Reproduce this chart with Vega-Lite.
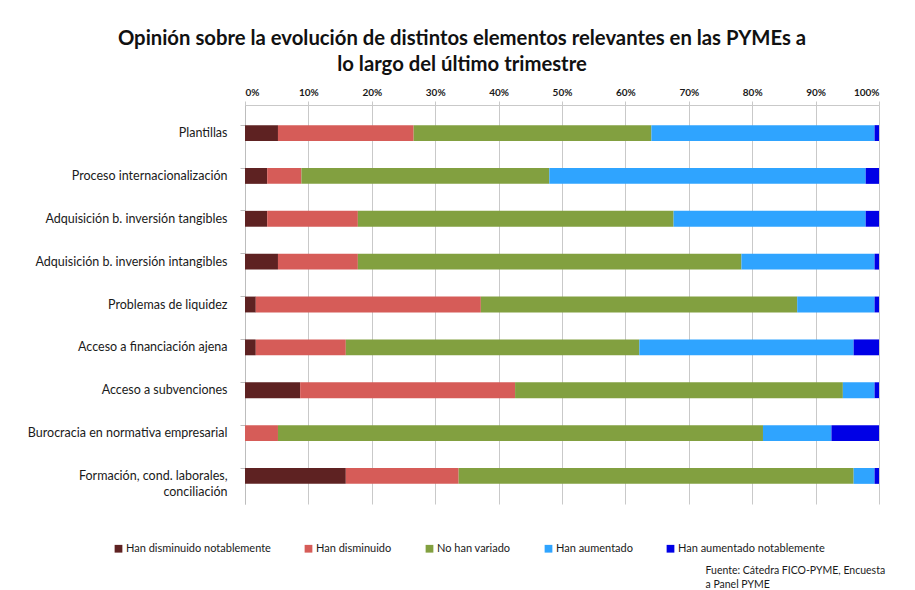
{
  "$schema": "https://vega.github.io/schema/vega-lite/v6.json",
  "autosize": "none",
  "width": 634,
  "height": 399,
  "padding": {"left": 245, "top": 105, "right": 36, "bottom": 86},
  "background": "white",
  "title": {
    "text": ["Opinión sobre la evolución de distintos elementos relevantes en las PYMEs a", "lo largo del último trimestre"],
    "font": "Lato",
    "fontSize": 20.3,
    "fontWeight": "bold",
    "color": "#111111",
    "anchor": "middle",
    "frame": "group",
    "dx": -100,
    "offset": 12,
    "lineHeight": 26
  },
  "data": {
    "values": [
      {"cat": "Plantillas", "serie": "Han disminuido notablemente", "o": 1, "v": 5.2},
      {"cat": "Plantillas", "serie": "Han disminuido", "o": 2, "v": 21.4},
      {"cat": "Plantillas", "serie": "No han variado", "o": 3, "v": 37.5},
      {"cat": "Plantillas", "serie": "Han aumentado", "o": 4, "v": 35.2},
      {"cat": "Plantillas", "serie": "Han aumentado notablemente", "o": 5, "v": 0.7},
      {"cat": "Proceso internacionalización", "serie": "Han disminuido notablemente", "o": 1, "v": 3.5},
      {"cat": "Proceso internacionalización", "serie": "Han disminuido", "o": 2, "v": 5.4},
      {"cat": "Proceso internacionalización", "serie": "No han variado", "o": 3, "v": 39.1},
      {"cat": "Proceso internacionalización", "serie": "Han aumentado", "o": 4, "v": 49.9},
      {"cat": "Proceso internacionalización", "serie": "Han aumentado notablemente", "o": 5, "v": 2.1},
      {"cat": "Adquisición b. inversión tangibles", "serie": "Han disminuido notablemente", "o": 1, "v": 3.5},
      {"cat": "Adquisición b. inversión tangibles", "serie": "Han disminuido", "o": 2, "v": 14.3},
      {"cat": "Adquisición b. inversión tangibles", "serie": "No han variado", "o": 3, "v": 49.8},
      {"cat": "Adquisición b. inversión tangibles", "serie": "Han aumentado", "o": 4, "v": 30.3},
      {"cat": "Adquisición b. inversión tangibles", "serie": "Han aumentado notablemente", "o": 5, "v": 2.1},
      {"cat": "Adquisición b. inversión intangibles", "serie": "Han disminuido notablemente", "o": 1, "v": 5.2},
      {"cat": "Adquisición b. inversión intangibles", "serie": "Han disminuido", "o": 2, "v": 12.6},
      {"cat": "Adquisición b. inversión intangibles", "serie": "No han variado", "o": 3, "v": 60.5},
      {"cat": "Adquisición b. inversión intangibles", "serie": "Han aumentado", "o": 4, "v": 21.0},
      {"cat": "Adquisición b. inversión intangibles", "serie": "Han aumentado notablemente", "o": 5, "v": 0.7},
      {"cat": "Problemas de liquidez", "serie": "Han disminuido notablemente", "o": 1, "v": 1.7},
      {"cat": "Problemas de liquidez", "serie": "Han disminuido", "o": 2, "v": 35.5},
      {"cat": "Problemas de liquidez", "serie": "No han variado", "o": 3, "v": 49.9},
      {"cat": "Problemas de liquidez", "serie": "Han aumentado", "o": 4, "v": 12.2},
      {"cat": "Problemas de liquidez", "serie": "Han aumentado notablemente", "o": 5, "v": 0.7},
      {"cat": "Acceso a financiación ajena", "serie": "Han disminuido notablemente", "o": 1, "v": 1.7},
      {"cat": "Acceso a financiación ajena", "serie": "Han disminuido", "o": 2, "v": 14.2},
      {"cat": "Acceso a financiación ajena", "serie": "No han variado", "o": 3, "v": 46.3},
      {"cat": "Acceso a financiación ajena", "serie": "Han aumentado", "o": 4, "v": 33.8},
      {"cat": "Acceso a financiación ajena", "serie": "Han aumentado notablemente", "o": 5, "v": 4.0},
      {"cat": "Acceso a subvenciones", "serie": "Han disminuido notablemente", "o": 1, "v": 8.7},
      {"cat": "Acceso a subvenciones", "serie": "Han disminuido", "o": 2, "v": 33.9},
      {"cat": "Acceso a subvenciones", "serie": "No han variado", "o": 3, "v": 51.7},
      {"cat": "Acceso a subvenciones", "serie": "Han aumentado", "o": 4, "v": 5.0},
      {"cat": "Acceso a subvenciones", "serie": "Han aumentado notablemente", "o": 5, "v": 0.7},
      {"cat": "Burocracia en normativa empresarial", "serie": "Han disminuido notablemente", "o": 1, "v": 0},
      {"cat": "Burocracia en normativa empresarial", "serie": "Han disminuido", "o": 2, "v": 5.2},
      {"cat": "Burocracia en normativa empresarial", "serie": "No han variado", "o": 3, "v": 76.5},
      {"cat": "Burocracia en normativa empresarial", "serie": "Han aumentado", "o": 4, "v": 10.8},
      {"cat": "Burocracia en normativa empresarial", "serie": "Han aumentado notablemente", "o": 5, "v": 7.5},
      {"cat": "Formación, cond. laborales, conciliación", "serie": "Han disminuido notablemente", "o": 1, "v": 15.9},
      {"cat": "Formación, cond. laborales, conciliación", "serie": "Han disminuido", "o": 2, "v": 17.8},
      {"cat": "Formación, cond. laborales, conciliación", "serie": "No han variado", "o": 3, "v": 62.3},
      {"cat": "Formación, cond. laborales, conciliación", "serie": "Han aumentado", "o": 4, "v": 3.3},
      {"cat": "Formación, cond. laborales, conciliación", "serie": "Han aumentado notablemente", "o": 5, "v": 0.7}
    ]
  },
  "encoding": {
    "y": {
      "field": "cat",
      "type": "nominal",
      "sort": null,
      "scale": {"paddingInner": 0.63, "paddingOuter": 0.47},
      "axis": {
        "title": null,
        "labelFont": "Lato",
        "labelFontSize": 12.5,
        "labelColor": "#1a1a1a",
        "labelPadding": 13,
        "labelLimit": 240,
        "labelLineHeight": 16,
        "labelExpr": "datum.label == 'Formación, cond. laborales, conciliación' ? ['Formación, cond. laborales,', 'conciliación'] : datum.label",
        "domainColor": "#bdbdbd",
        "tickColor": "#bdbdbd",
        "tickSize": 5,
        "ticks": true,
        "grid": false,
        "bandPosition": 0
      }
    }
  },
  "layer": [
    {
      "mark": {"type": "bar", "opacity": 0},
      "encoding": {
        "x": {
          "field": "v",
          "type": "quantitative",
          "stack": "normalize",
          "axis": {
            "orient": "bottom",
            "labels": false,
            "ticks": false,
            "domain": false,
            "grid": false,
            "title": ["Fuente: Cátedra FICO-PYME, Encuesta", "a Panel PYME"],
            "titleFont": "Lato",
            "titleFontSize": 10.5,
            "titleFontWeight": "normal",
            "titleColor": "#1a1a1a",
            "titleAlign": "left",
            "titleAnchor": "start",
            "titleX": 460,
            "titleY": 69,
            "titleBaseline": "alphabetic",
            "titleLineHeight": 14
          }
        }
      }
    },
    {
      "mark": {"type": "bar", "stroke": null},
      "encoding": {
        "x": {
          "field": "v",
          "type": "quantitative",
          "stack": "normalize",
          "scale": {"domain": [0, 1]},
          "axis": {
            "orient": "top",
            "format": ".0%",
            "values": [0, 0.1, 0.2, 0.3, 0.4, 0.5, 0.6, 0.7, 0.8, 0.9, 1],
            "title": null,
            "labelFont": "Lato",
            "labelFontSize": 10,
            "labelFontWeight": "bold",
            "labelColor": "#1a1a1a",
            "labelPadding": 4,
            "grid": true,
            "gridColor": "#c9c9c9",
            "gridWidth": 1,
            "domainColor": "#c9c9c9",
            "tickColor": "#c9c9c9",
            "tickSize": 4
          }
        },
        "color": {
          "field": "serie",
          "type": "nominal",
          "scale": {
            "domain": ["Han disminuido notablemente", "Han disminuido", "No han variado", "Han aumentado", "Han aumentado notablemente"],
            "range": ["#5e2222", "#d65c58", "#82a040", "#2fa4ff", "#0000e6"]
          },
          "legend": {
            "title": null,
            "orient": "none",
            "direction": "horizontal",
            "legendX": -132,
            "legendY": 438,
            "symbolType": "square",
            "symbolSize": 60,
            "symbolStrokeWidth": 0,
            "labelFont": "Lato",
            "labelFontSize": 11,
            "labelColor": "#1a1a1a",
            "labelOffset": 2,
            "columnPadding": 32
          }
        },
        "order": {"field": "o", "type": "quantitative"}
      }
    }
  ],
  "resolve": {"axis": {"x": "independent"}},
  "config": {"view": {"stroke": null}}
}
